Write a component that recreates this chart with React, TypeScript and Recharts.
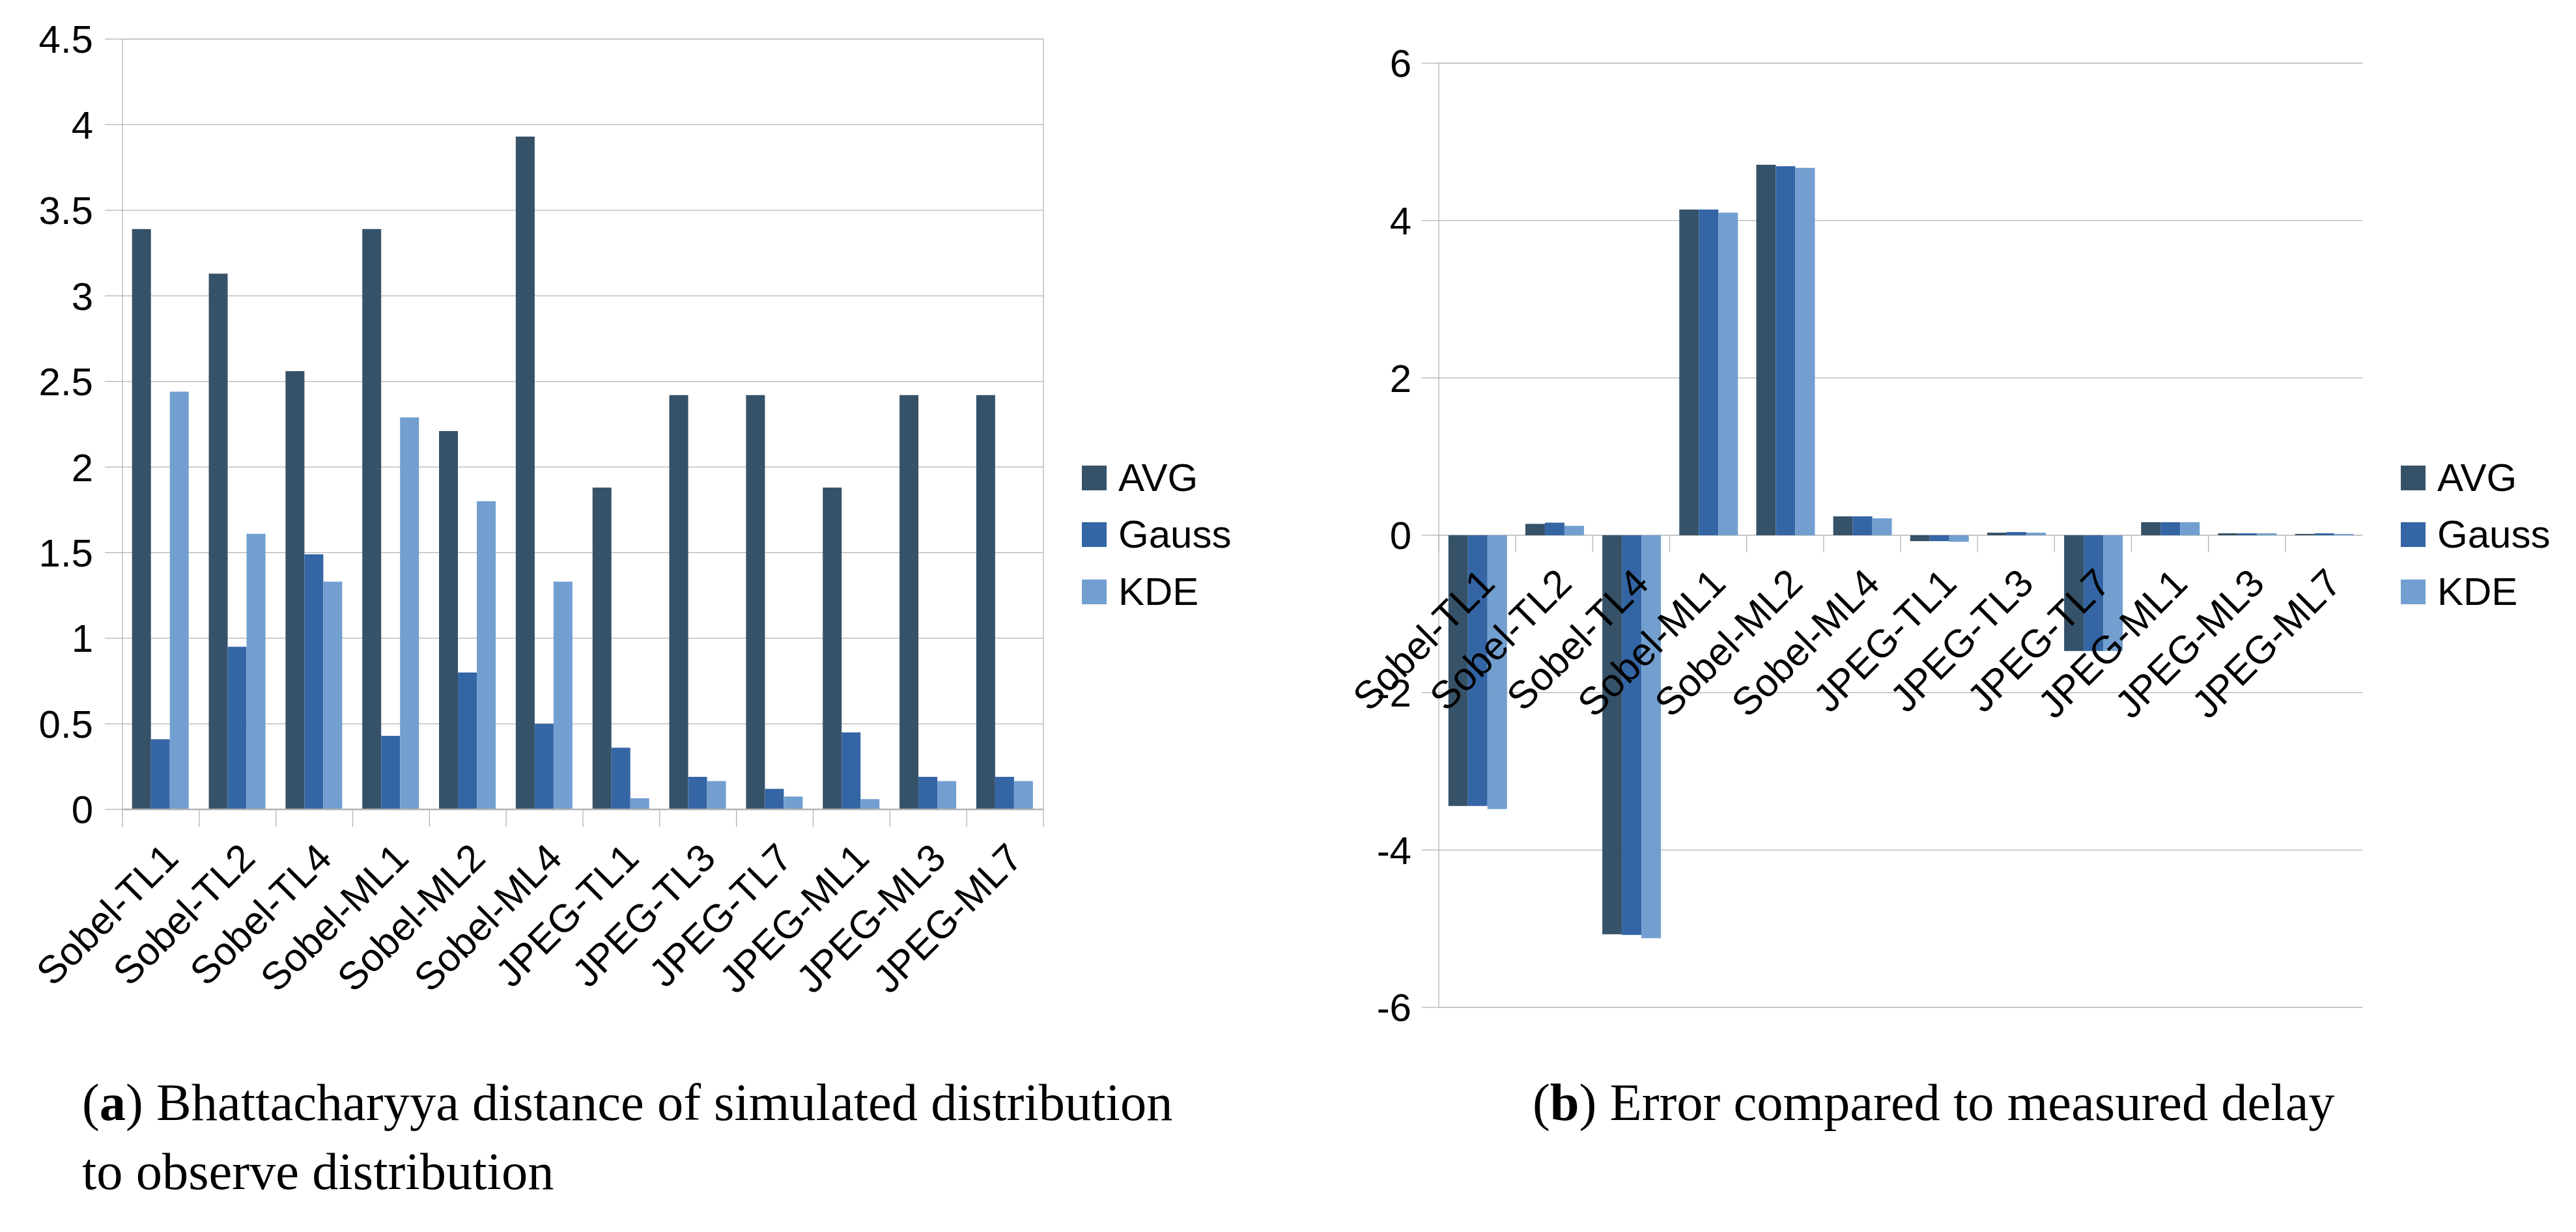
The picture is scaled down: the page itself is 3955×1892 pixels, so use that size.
import React from 'react';
import {
  ComposedChart,
  Bar,
  Line,
  XAxis,
  YAxis,
  CartesianGrid,
  Legend,
  ReferenceLine,
  LabelList,
} from 'recharts';

// ---------- data ----------
const categories = [
  'Sobel-TL1', 'Sobel-TL2', 'Sobel-TL4', 'Sobel-ML1', 'Sobel-ML2', 'Sobel-ML4',
  'JPEG-TL1', 'JPEG-TL3', 'JPEG-TL7', 'JPEG-ML1', 'JPEG-ML3', 'JPEG-ML7',
];

const seriesNames = ['AVG', 'Gauss', 'KDE'];
const seriesColors = ['#355269', '#3465a4', '#729fcf'];

// (a) Bhattacharyya distance
const bhattAvg = [3.39, 3.13, 2.56, 3.39, 2.21, 3.93, 1.88, 2.42, 2.42, 1.88, 2.42, 2.42];
const bhattGauss = [0.41, 0.95, 1.49, 0.43, 0.80, 0.50, 0.36, 0.19, 0.12, 0.45, 0.19, 0.19];
const bhattKde = [2.44, 1.61, 1.33, 2.29, 1.80, 1.33, 0.065, 0.165, 0.075, 0.06, 0.165, 0.165];
const bhattTicks = [0, 0.5, 1, 1.5, 2, 2.5, 3, 3.5, 4, 4.5];

// (b) Error compared to measured delay
const errAvg = [-3.44, 0.145, -5.07, 4.14, 4.71, 0.24, -0.075, 0.033, -1.47, 0.166, 0.025, 0.017];
const errGauss = [-3.44, 0.16, -5.08, 4.14, 4.69, 0.24, -0.075, 0.041, -1.47, 0.166, 0.025, 0.025];
const errKde = [-3.48, 0.12, -5.12, 4.10, 4.67, 0.215, -0.083, 0.033, -1.47, 0.166, 0.025, 0.017];
const errTicks = [-6, -4, -2, 0, 2, 4, 6];

const captionA1 = 'Bhattacharyya distance of simulated distribution';
const captionA2 = 'to observe distribution';
const captionB = 'Error compared to measured delay';

const bhattData = categories.map((name, i) => ({
  name,
  AVG: bhattAvg[i],
  Gauss: bhattGauss[i],
  KDE: bhattKde[i],
}));
const errData = categories.map((name, i) => ({
  name,
  AVG: errAvg[i],
  Gauss: errGauss[i],
  KDE: errKde[i],
}));
const seriesOrder: Record<string, number> = { AVG: 0, Gauss: 1, KDE: 2 };

// ---------- style ----------
const FONT = '"Liberation Sans", Arial, Helvetica, sans-serif';
const SERIF = '"Liberation Serif", "Times New Roman", serif';
const GRID = '#b3b3b3';
const TEXT_SIZE = 60;

const CategoryTick = (props: any) => {
  const { x, y, payload } = props;
  const half = payload && payload.offset ? payload.offset : 0;
  const ax = x;
  const ay = y + 48;
  const isLast = payload.value === categories[categories.length - 1];
  return (
    <g>
      <line x1={x - half} x2={x - half} y1={y} y2={y + 27} stroke={GRID} strokeWidth={1.3} />
      {isLast && (
        <line x1={x + half} x2={x + half} y1={y} y2={y + 27} stroke={GRID} strokeWidth={1.3} />
      )}
      <text
        x={ax}
        y={ay}
        dy="0.71em"
        textAnchor="end"
        transform={`rotate(-45 ${ax} ${ay})`}
        fontSize={TEXT_SIZE}
        fontFamily={FONT}
        fill="#000"
      >
        {payload.value}
      </text>
    </g>
  );
};

const ZeroLabel = (props: any) => {
  const vb = props.viewBox || {};
  const x = props.x !== undefined ? props.x : vb.x;
  const y = props.y !== undefined ? props.y : vb.y;
  if (x === undefined || y === undefined) return null;
  const ay = y + 47;
  return (
    <text
      x={x}
      y={ay}
      dy="0.71em"
      textAnchor="end"
      transform={`rotate(-45 ${x} ${ay})`}
      fontSize={TEXT_SIZE}
      fontFamily={FONT}
      fill="#000"
    >
      {props.value}
    </text>
  );
};

const LegendContent = (props: any) => {
  const items = (props.payload || []).filter((p: any) => p.type !== 'none');
  const ordered = [...items].sort(
    (a: any, b: any) => (seriesOrder[a.value] ?? 9) - (seriesOrder[b.value] ?? 9)
  );
  return (
    <div style={{ fontFamily: FONT, fontSize: TEXT_SIZE, color: '#000' }}>
      {ordered.map((p: any) => (
        <div key={p.value} style={{ display: 'flex', alignItems: 'center', height: 87.5 }}>
          <div style={{ width: 38, height: 38, background: p.color, marginRight: 18 }} />
          <span style={{ lineHeight: 1, whiteSpace: 'nowrap' }}>{p.value}</span>
        </div>
      ))}
    </div>
  );
};

const tickStyle = { fontSize: TEXT_SIZE, fill: '#000', fontFamily: FONT };

const captionStyle: React.CSSProperties = {
  position: 'absolute',
  top: 1640,
  fontFamily: SERIF,
  fontSize: 80.5,
  lineHeight: '106px',
  color: '#000',
  whiteSpace: 'nowrap',
};

export default function App() {
  return (
    <div
      style={{
        position: 'absolute',
        left: 0,
        top: 0,
        width: 3955,
        height: 1892,
        background: '#fff',
        overflow: 'hidden',
      }}
    >
      {/* (a) */}
      <div style={{ position: 'absolute', left: 0, top: 0 }}>
        <ComposedChart
          width={1900}
          height={1543}
          data={bhattData}
          margin={{ top: 60, right: 298, left: 0, bottom: 0 }}
          barGap={0}
          barCategoryGap="12.5%"
        >
          <CartesianGrid vertical={false} stroke={GRID} strokeWidth={1.3} />
          <XAxis
            dataKey="name"
            interval={0}
            height={300}
            tickLine={false}
            tickSize={0}
            tickMargin={0}
            axisLine={{ stroke: GRID, strokeWidth: 2.5 }}
            tick={(p: any) => <CategoryTick {...p} />}
          />
          <YAxis
            width={188}
            domain={[0, 4.5]}
            ticks={bhattTicks}
            interval={0}
            tickSize={27}
            tickMargin={18}
            axisLine={{ stroke: GRID, strokeWidth: 1.3 }}
            tickLine={{ stroke: GRID, strokeWidth: 1.3 }}
            tick={tickStyle}
          />
          {seriesNames.map((s, i) => (
            <Bar key={s} dataKey={s} fill={seriesColors[i]} isAnimationActive={false} />
          ))}
          <ReferenceLine
            x={categories[categories.length - 1]}
            position="end"
            stroke={GRID}
            strokeWidth={1.3}
          />
          <Legend
            layout="vertical"
            align="center"
            verticalAlign="middle"
            content={(p: any) => <LegendContent {...p} />}
            wrapperStyle={{ left: 1661, top: 690, width: 240, height: 270 }}
          />
        </ComposedChart>
      </div>

      {/* (b) */}
      <div style={{ position: 'absolute', left: 2000, top: 0 }}>
        <ComposedChart
          width={1955}
          height={1650}
          data={errData}
          margin={{ top: 97, right: 328, left: 0, bottom: 103 }}
          barGap={0}
          barCategoryGap="12.5%"
        >
          <CartesianGrid vertical={false} stroke={GRID} strokeWidth={1.3} />
          <XAxis dataKey="name" hide />
          <YAxis
            width={209}
            domain={[-6, 6]}
            ticks={errTicks}
            interval={0}
            tickSize={26}
            tickMargin={16}
            axisLine={{ stroke: GRID, strokeWidth: 1.3 }}
            tickLine={{ stroke: GRID, strokeWidth: 1.3 }}
            tick={tickStyle}
          />
          {seriesNames.map((s, i) => (
            <Bar key={s} dataKey={s} fill={seriesColors[i]} isAnimationActive={false} />
          ))}
          {categories.map((c) => (
            <ReferenceLine
              key={'t' + c}
              segment={[{ x: c, y: 0 }, { x: c, y: -0.215 }]}
              position="start"
              stroke={GRID}
              strokeWidth={1.3}
            />
          ))}
          <ReferenceLine
            x={categories[categories.length - 1]}
            position="end"
            stroke={GRID}
            strokeWidth={1.3}
          />
          <Line
            dataKey={() => 0}
            stroke="none"
            dot={false}
            activeDot={false}
            legendType="none"
            isAnimationActive={false}
          >
            <LabelList dataKey="name" content={(p: any) => <ZeroLabel {...p} />} />
          </Line>
          <Legend
            layout="vertical"
            align="center"
            verticalAlign="middle"
            content={(p: any) => <LegendContent {...p} />}
            wrapperStyle={{ left: 1686, top: 690, width: 240, height: 270 }}
          />
        </ComposedChart>
      </div>

      {/* captions */}
      <div style={{ ...captionStyle, left: 126 }}>
        (<b>a</b>) {captionA1}
        <br />
        {captionA2}
      </div>
      <div style={{ ...captionStyle, left: 2353 }}>
        (<b>b</b>) {captionB}
      </div>
    </div>
  );
}
